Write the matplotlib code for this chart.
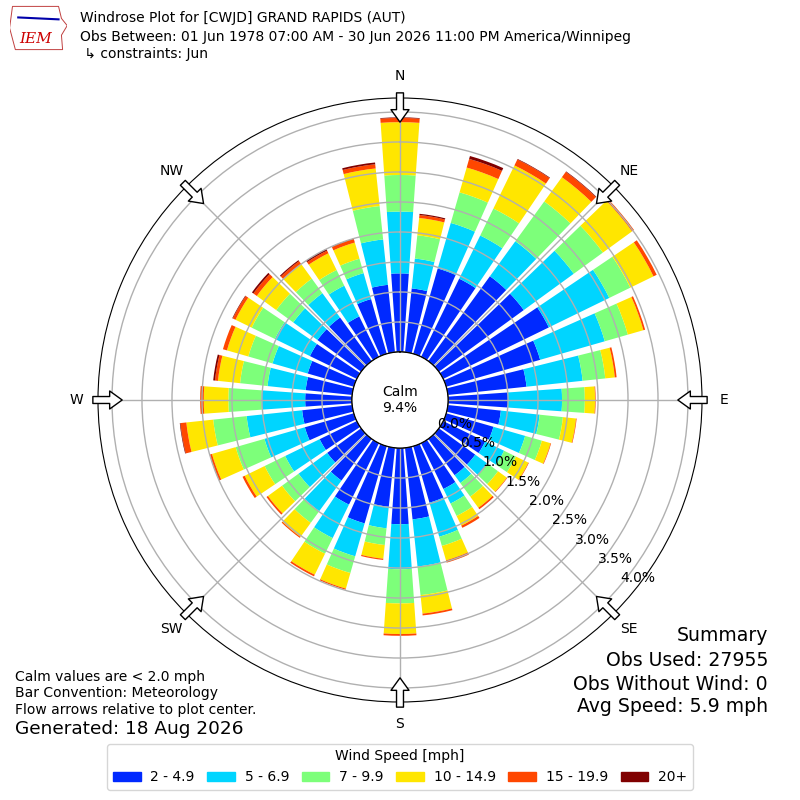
import numpy as np
import matplotlib
matplotlib.use("Agg")
import matplotlib.pyplot as plt
from matplotlib.patches import Circle, Rectangle, Polygon

# direction (deg, where wind comes from) and percent of obs in each speed bin
directions = np.arange(0, 360, 10)
bin_labels = ["2 - 4.9", "5 - 6.9", "7 - 9.9", "10 - 14.9", "15 - 19.9", "20+"]
spd_2_5 = [1.31, 1.07, 1.48, 1.45, 1.75, 1.75, 1.96, 1.63, 1.32, 1.00, 0.89, 0.82,
           0.78, 0.75, 0.75, 0.85, 0.98, 1.20, 1.27, 0.99, 1.34, 1.14, 0.86, 0.70,
           0.69, 0.85, 0.84, 0.78, 0.78, 0.80, 0.87, 0.90, 0.90, 0.75, 0.95, 1.13]
spd_5_7 = [1.03, 0.50, 0.79, 0.80, 0.72, 1.03, 1.12, 1.12, 0.94, 0.90, 0.65, 0.55,
           0.35, 0.25, 0.16, 0.27, 0.59, 0.79, 0.75, 0.36, 0.57, 0.62, 0.63, 0.59,
           0.64, 0.70, 0.93, 0.73, 0.64, 0.61, 0.65, 0.50, 0.50, 0.57, 0.45, 0.76]
spd_7_10 = [0.61, 0.39, 0.53, 0.50, 0.82, 0.60, 0.39, 0.40, 0.38, 0.38, 0.39, 0.29,
            0.22, 0.22, 0.28, 0.23, 0.16, 0.48, 0.57, 0.28, 0.29, 0.29, 0.24, 0.34,
            0.38, 0.50, 0.56, 0.55, 0.46, 0.42, 0.43, 0.35, 0.30, 0.29, 0.25, 0.56]
spd_10_15 = [0.88, 0.29, 0.43, 0.80, 0.50, 0.60, 0.43, 0.27, 0.16, 0.17, 0.22, 0.15,
             0.23, 0.18, 0.23, 0.18, 0.25, 0.31, 0.51, 0.23, 0.27, 0.39, 0.29, 0.29,
             0.37, 0.41, 0.45, 0.41, 0.37, 0.37, 0.30, 0.40, 0.30, 0.31, 0.28, 0.63]
spd_15_20 = [0.07, 0.05, 0.15, 0.11, 0.11, 0.04, 0.06, 0.03, 0.03, 0.01, 0.01, 0.01,
             0.01, 0.01, 0.03, 0.04, 0.04, 0.03, 0.03, 0.02, 0.02, 0.03, 0.02, 0.03,
             0.04, 0.04, 0.10, 0.06, 0.05, 0.07, 0.05, 0.07, 0.06, 0.05, 0.06, 0.07]
spd_20 = [0.01, 0.02, 0.05, 0.01, 0.01, 0.00, 0.00, 0.00, 0.00, 0.00, 0.00, 0.00,
          0.00, 0.00, 0.00, 0.00, 0.00, 0.00, 0.00, 0.00, 0.00, 0.00, 0.00, 0.00,
          0.00, 0.00, 0.01, 0.00, 0.03, 0.00, 0.01, 0.03, 0.02, 0.03, 0.01, 0.03]
speed_bins = [spd_2_5, spd_5_7, spd_7_10, spd_10_15, spd_15_20, spd_20]
calm_pct = 9.4
rticks = np.arange(0, 4.01, 0.5)
compass = ["N", "NE", "E", "SE", "S", "SW", "W", "NW"]

colors = [plt.cm.jet(i / 6.0) for i in range(1, 7)]

fig = plt.figure(figsize=(8, 8), dpi=100)
ax = fig.add_axes([0.1225, 0.1225, 0.755, 0.755], projection="polar")
ax.set_theta_zero_location("N")
ax.set_theta_direction(-1)

theta = np.deg2rad(directions)
bottom = np.zeros(len(directions))
for vals, c in zip(speed_bins, colors):
    vals = np.array(vals)
    ax.bar(theta, vals, width=np.deg2rad(8), bottom=bottom, color=c,
           linewidth=0, zorder=1)
    bottom += vals

ax.set_ylim(0, 4.233)
ax.set_rorigin(-0.8)
ax.set_yticks(rticks)
ax.set_yticklabels(["%.1f%%" % v for v in rticks], fontsize=10)
ax.set_rlabel_position(130)
ax.set_thetagrids(range(0, 360, 45), compass, fontsize=10)
ax.tick_params(axis="x", pad=5)
ax.grid(True, color="#b0b0b0", linewidth=1)

# calm circle in the middle
ax.add_patch(Circle((0.5, 0.5), 48 / 604.0, transform=ax.transAxes,
                    facecolor="white", edgecolor="black", lw=1, zorder=2))
ax.text(0.5, 0.5, "Calm\n%.1f%%" % calm_pct, transform=ax.transAxes,
        ha="center", va="center", fontsize=10, zorder=5)

# flow arrows at the edge
for a in range(0, 360, 45):
    ra = np.deg2rad(a)
    tail = (0.5 + 0.5 * 1.017 * np.sin(ra), 0.5 + 0.5 * 1.017 * np.cos(ra))
    tip = (0.5 + 0.5 * 0.92 * np.sin(ra), 0.5 + 0.5 * 0.92 * np.cos(ra))
    ax.annotate("", xy=tip, xytext=tail, xycoords="axes fraction",
                arrowprops=dict(facecolor="white", edgecolor="black",
                                width=5, headwidth=13, headlength=9, lw=1),
                annotation_clip=False, zorder=6)

# header
fig.text(0.1, 0.9775, "Windrose Plot for [CWJD] GRAND RAPIDS (AUT)",
         fontsize=10, va="center")
fig.text(0.1, 0.954, "Obs Between: 01 Jun 1978 07:00 AM - 30 Jun 2026 11:00 PM "
         "America/Winnipeg", fontsize=10, va="center")
fig.text(0.1, 0.9325, " \u21b3 constraints: Jun", fontsize=10, va="center")

# rough IEM logo
lax = fig.add_axes([0.012, 0.935, 0.072, 0.06])
lax.set_xlim(0, 1)
lax.set_ylim(0, 1)
lax.axis("off")
lax.add_patch(Polygon([[0.05, 0.95], [0.85, 0.95], [0.9, 0.7], [1.0, 0.55],
                       [0.9, 0.35], [0.92, 0.05], [0.1, 0.05], [0.0, 0.5]],
                      closed=True, fill=False, edgecolor="#c04040", lw=0.7))
lax.plot([0.15, 0.85], [0.72, 0.68], color="#0000aa", lw=1.5)
lax.text(0.45, 0.28, "IEM", color="#cc0000", fontsize=11, style="italic",
         family="serif", ha="center", va="center")

# footnotes
fig.text(0.019, 0.154, "Calm values are < 2.0 mph", fontsize=10, va="center")
fig.text(0.019, 0.134, "Bar Convention: Meteorology", fontsize=10, va="center")
fig.text(0.019, 0.1125, "Flow arrows relative to plot center.", fontsize=10,
         va="center")
fig.text(0.019, 0.089, "Generated: 18 Aug 2026", fontsize=13.3, va="center")

fig.text(0.96, 0.206, "Summary", fontsize=13.6, ha="right", va="center")
fig.text(0.96, 0.175, "Obs Used: 27955", fontsize=13.6, ha="right", va="center")
fig.text(0.96, 0.145, "Obs Without Wind: 0", fontsize=13.6, ha="right",
         va="center")
fig.text(0.96, 0.1175, "Avg Speed: 5.9 mph", fontsize=13.6, ha="right",
         va="center")

handles = [Rectangle((0, 0), 1, 1, color=c) for c in colors]
fig.legend(handles, bin_labels, loc="lower center", bbox_to_anchor=(0.5, 0.004),
           ncol=6, title="Wind Speed [mph]", fontsize=10, title_fontsize=10,
           columnspacing=0.9, handletextpad=0.7)

fig.savefig("out.png", dpi=100)
